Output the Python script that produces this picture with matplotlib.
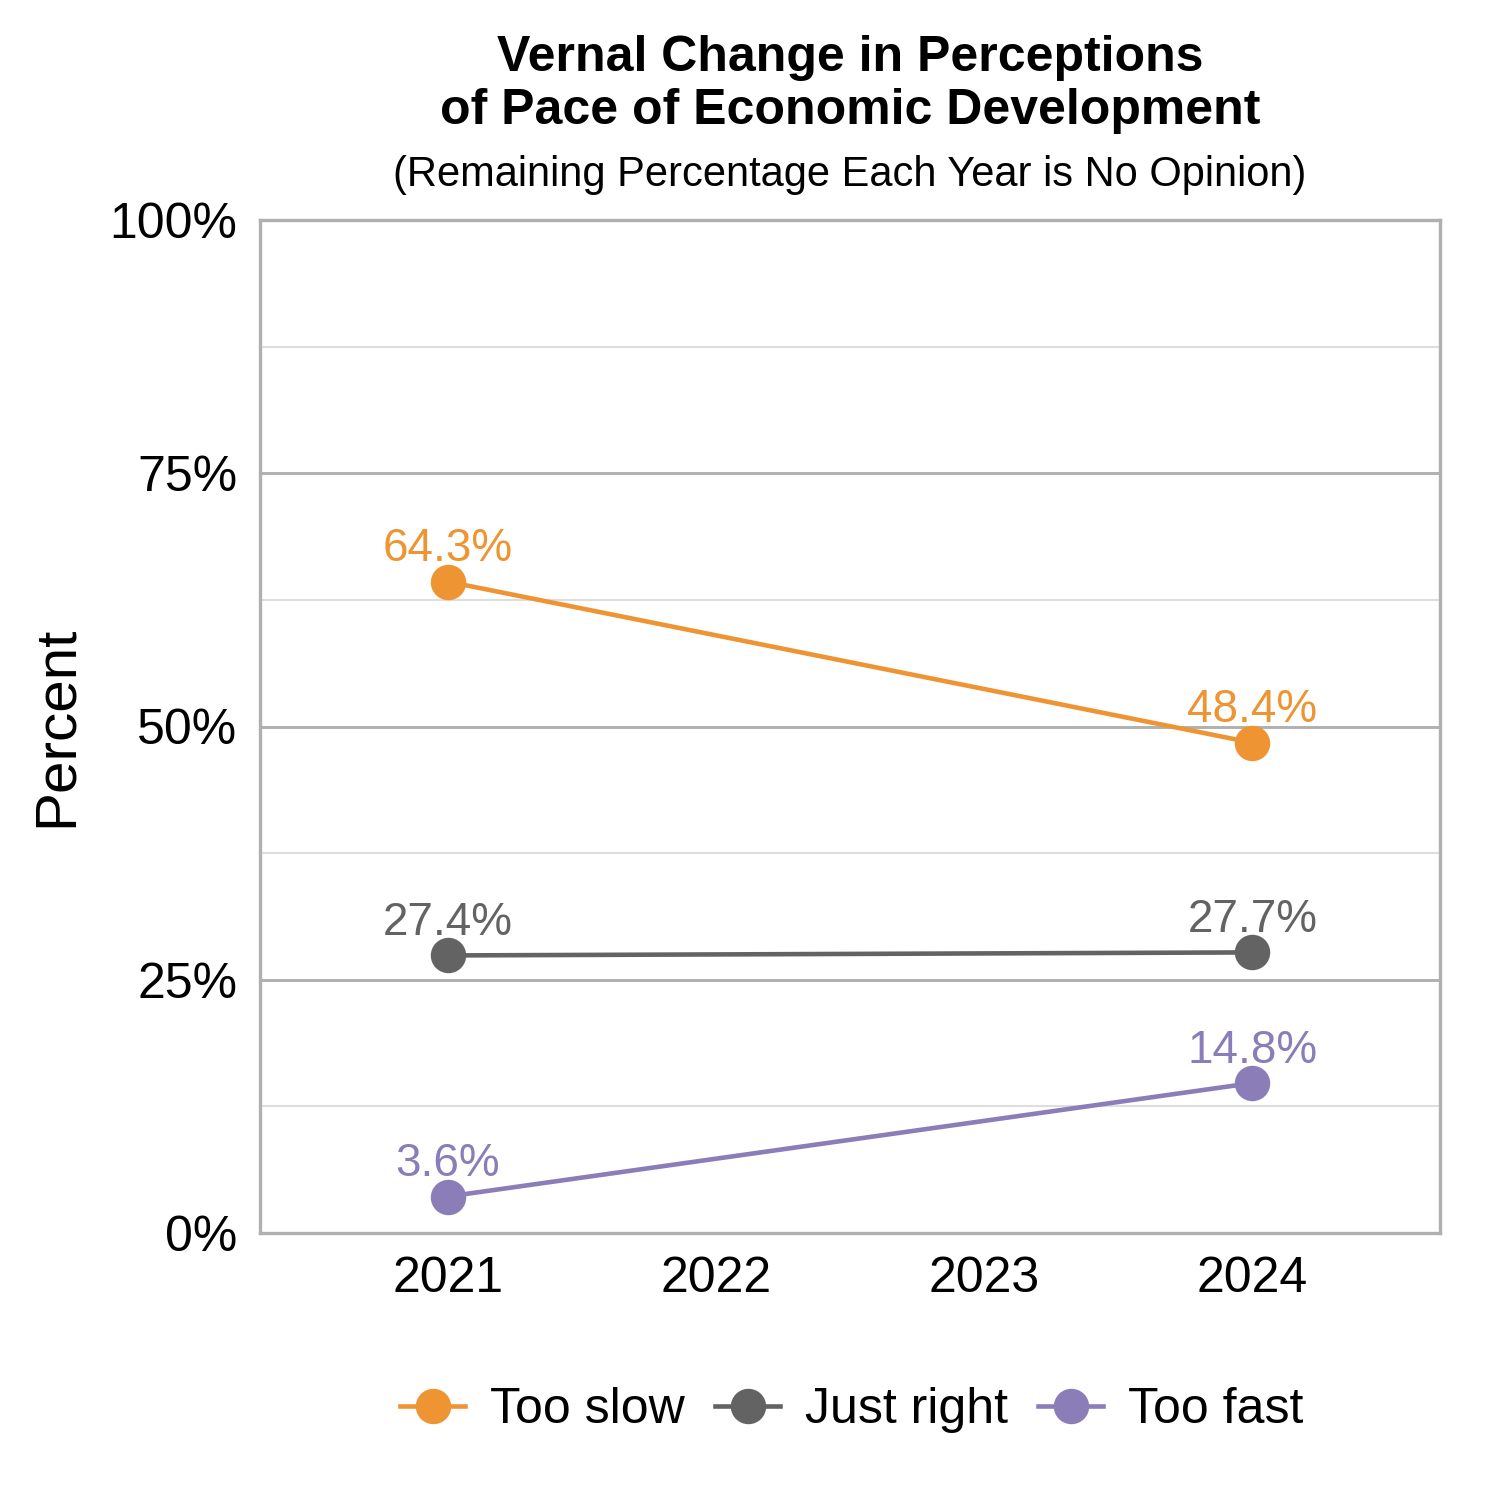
import matplotlib.pyplot as plt
from matplotlib.ticker import MultipleLocator, FuncFormatter

plt.rcParams['font.family'] = ['Liberation Sans', 'DejaVu Sans']

# data
years = [2021, 2024]
series_names = ['Too slow', 'Just right', 'Too fast']
too_slow = [64.3, 48.4]
just_right = [27.4, 27.7]
too_fast = [3.6, 14.8]
colors = ['#EE9433', '#636363', '#8A7DB8']
year_ticks = [2021, 2022, 2023, 2024]

fig = plt.figure(figsize=(5, 5), dpi=300)
ax = fig.add_axes([260 / 1500, 1 - 1233 / 1500, 1180 / 1500, 1013 / 1500])

for name, vals, col in zip(series_names, [too_slow, just_right, too_fast], colors):
    ax.plot(years, vals, color=col, lw=1.1, marker='o', ms=7.5, label=name, zorder=3)
    for x, v in zip(years, vals):
        ax.annotate(f'{v:.1f}%', (x, v), xytext=(0, 2.5), textcoords='offset points',
                    ha='center', va='bottom', color=col, fontsize=11)

ax.set_xlim(2020.3, 2024.7)
ax.set_ylim(0, 100)
ax.set_xticks(year_ticks)
ax.yaxis.set_major_locator(MultipleLocator(25))
ax.yaxis.set_minor_locator(MultipleLocator(12.5))
ax.yaxis.set_major_formatter(FuncFormatter(lambda v, p: f'{v:.0f}%'))
ax.grid(axis='y', which='major', color='#b0b0b0', lw=0.7)
ax.grid(axis='y', which='minor', color='#dedede', lw=0.5)
ax.set_axisbelow(True)
ax.tick_params(length=0, labelsize=12, colors='black')
ax.tick_params(axis='x', pad=5.5)
ax.tick_params(axis='y', pad=5.5)
ax.tick_params(axis='y', which='minor', length=0)
for s in ax.spines.values():
    s.set_color('#b0b0b0')
    s.set_linewidth(0.8)

ax.set_ylabel('Percent', fontsize=14, labelpad=6)

fig.text(0.5667, 1 - 58 / 1500, 'Vernal Change in Perceptions', ha='center', va='center',
         fontsize=12, fontweight='bold')
fig.text(0.5667, 1 - 111 / 1500, 'of Pace of Economic Development', ha='center', va='center',
         fontsize=12, fontweight='bold')
fig.text(0.5667, 1 - 175 / 1500, '(Remaining Percentage Each Year is No Opinion)', ha='center',
         va='center', fontsize=10)

fig.legend(loc='center', bbox_to_anchor=(0.568, 1 - 1410 / 1500), ncol=3, frameon=False,
           fontsize=12, handlelength=1.3, columnspacing=0.6, handletextpad=0.5)

fig.savefig('out.png', dpi=300)
